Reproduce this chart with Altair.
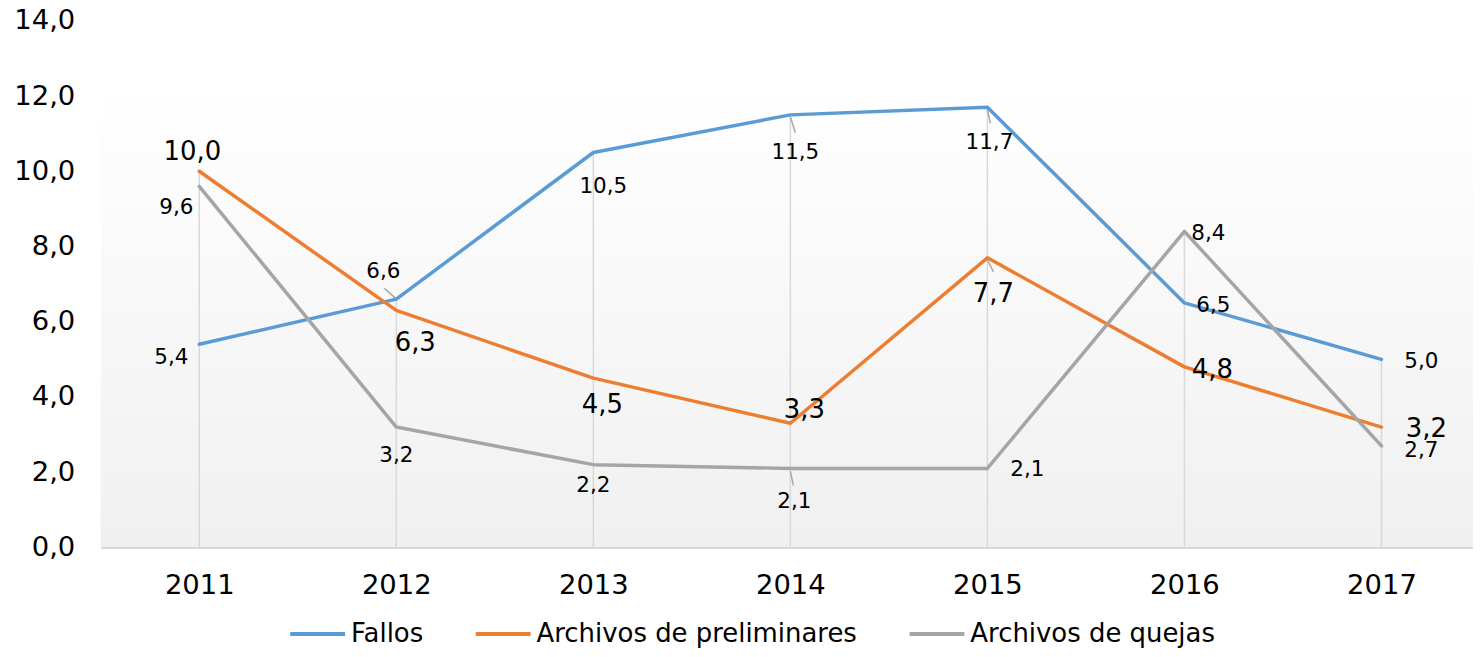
import altair as alt
import pandas as pd

# ---- data ----
years = ["2011", "2012", "2013", "2014", "2015", "2016", "2017"]
fallos = [5.4, 6.6, 10.5, 11.5, 11.7, 6.5, 5.0]
preliminares = [10.0, 6.3, 4.5, 3.3, 7.7, 4.8, 3.2]
quejas = [9.6, 3.2, 2.2, 2.1, 2.1, 8.4, 2.7]
series_names = ["Fallos", "Archivos de preliminares", "Archivos de quejas"]
y_ticks = [0, 2, 4, 6, 8, 10, 12, 14]

# ---- styles / label placement ----
series_colors = ["#5b9bd5", "#ed7d31", "#a5a5a5"]
label_dx = {
    "Fallos": [-28, -13, 10, 5, 2, 29, 40],
    "Archivos de preliminares": [-7, 19, 9, 14, 6, 28, 45],
    "Archivos de quejas": [-23, 0, 0, 4, 40, 24, 40],
}
label_dy = {
    "Fallos": [14, -27, 35, 38, 36, 3, 3],
    "Archivos de preliminares": [-19, 33, 27, -13, 36, 3, 2],
    "Archivos de quejas": [22, 29, 21, 34, 2, 3, 5],
}
label_size = {"Fallos": 21.5, "Archivos de preliminares": 26, "Archivos de quejas": 21.5}
# leader lines: (series, year index, start dx, start dy, end dx, end dy) in pixels
leaders = [
    ("Fallos", 1, -12, -11, -1, -1),
    ("Fallos", 3, 0, 2, 5, 18),
    ("Fallos", 4, 0, 2, 3, 16),
    ("Archivos de preliminares", 4, 0, 2, 6, 14),
    ("Archivos de quejas", 3, 0, 3, 3, 17),
]
FONT = "DejaVu Sans"

values = {"Fallos": fallos, "Archivos de preliminares": preliminares, "Archivos de quejas": quejas}
rows = []
for s in series_names:
    for y, v in zip(years, values[s]):
        rows.append({"year": y, "series": s, "value": v,
                     "label": f"{v:.1f}".replace(".", ",")})
df = pd.DataFrame(rows)
drop = df.groupby("year", as_index=False)["value"].max()

x_axis = alt.Axis(title=None, labelFontSize=27.5, labelColor="#000000", labelPadding=24,
                  ticks=False, domainColor="#d9d9d9", domainWidth=2, grid=False,
                  labelAngle=0, zindex=1, labelFont=FONT)
y_axis = alt.Axis(title=None, values=y_ticks, labelFontSize=27.5, labelColor="#000000",
                  labelPadding=26, ticks=False, domain=False, grid=False, labelFont=FONT,
                  labelExpr="replace(format(datum.value, '.1f'), '.', ',')")
x_scale = alt.Scale(type="point", padding=0.5, domain=years, range=[0, 1383])
y_scale = alt.Scale(domain=[0, 14], nice=False)


def X():
    return alt.X("year:O", scale=x_scale, axis=x_axis)


def Y(field="value:Q"):
    return alt.Y(field, scale=y_scale, axis=y_axis)


bg = alt.Chart(pd.DataFrame({"a": [0]})).mark_rect(
    fill=alt.LinearGradient(gradient="linear",
                            stops=[alt.GradientStop(color="#ffffff", offset=0),
                                   alt.GradientStop(color="#f0f0f0", offset=1)],
                            x1=0, x2=0, y1=0, y2=1)
).encode(
    x=alt.value(0), x2=alt.value("width"),
    y=alt.Y(datum=12.2, scale=y_scale, axis=y_axis), y2=alt.datum(0)
)

drops = alt.Chart(drop).mark_rule(color="#d9d9d9", strokeWidth=1.5).encode(
    x=X(), y=Y(), y2=alt.datum(0)
)

leader_layers = []
for s, i, x1o, y1o, x2o, y2o in leaders:
    sub = df[(df["series"] == s) & (df["year"] == years[i])]
    leader_layers.append(
        alt.Chart(sub).mark_rule(color="#a6a6a6", strokeWidth=1.5,
                                 xOffset=x1o, yOffset=y1o, x2Offset=x2o, y2Offset=y2o)
        .encode(x=X(), x2=alt.X2("year:O"), y=Y(), y2=alt.Y2("value:Q"))
    )

lines = alt.Chart(df).mark_line(strokeWidth=3.5, strokeJoin="round", strokeCap="round").encode(
    x=X(), y=Y(),
    color=alt.Color("series:N",
                    scale=alt.Scale(domain=series_names, range=series_colors),
                    sort=series_names,
                    legend=alt.Legend(title=None, orient="none", legendX=188, legendY=585,
                                      direction="horizontal", symbolType="stroke",
                                      symbolStrokeWidth=4, symbolSize=3025,
                                      labelFontSize=26, labelFont=FONT, labelColor="#000000",
                                      labelOffset=4, columnPadding=44, padding=0,
                                      labelLimit=600)),
    detail="series:N",
)

label_layers = []
for s in series_names:
    sub = df[df["series"] == s].reset_index(drop=True)
    for i in range(len(sub)):
        label_layers.append(
            alt.Chart(sub.iloc[[i]]).mark_text(
                dx=label_dx[s][i], dy=label_dy[s][i], fontSize=label_size[s],
                font=FONT, color="#000000", align="center", baseline="middle"
            ).encode(x=X(), y=Y(), text="label:N")
        )

chart = alt.layer(bg, drops, *leader_layers, lines, *label_layers).properties(
    width=1376, height=528,
    padding={"left": 93, "top": 12, "right": 0, "bottom": 101},
    autosize=alt.AutoSizeParams(type="none"),
).configure(font=FONT).configure_view(stroke=None)

chart.save("out.html", embed_options={"renderer": "svg", "actions": False})
